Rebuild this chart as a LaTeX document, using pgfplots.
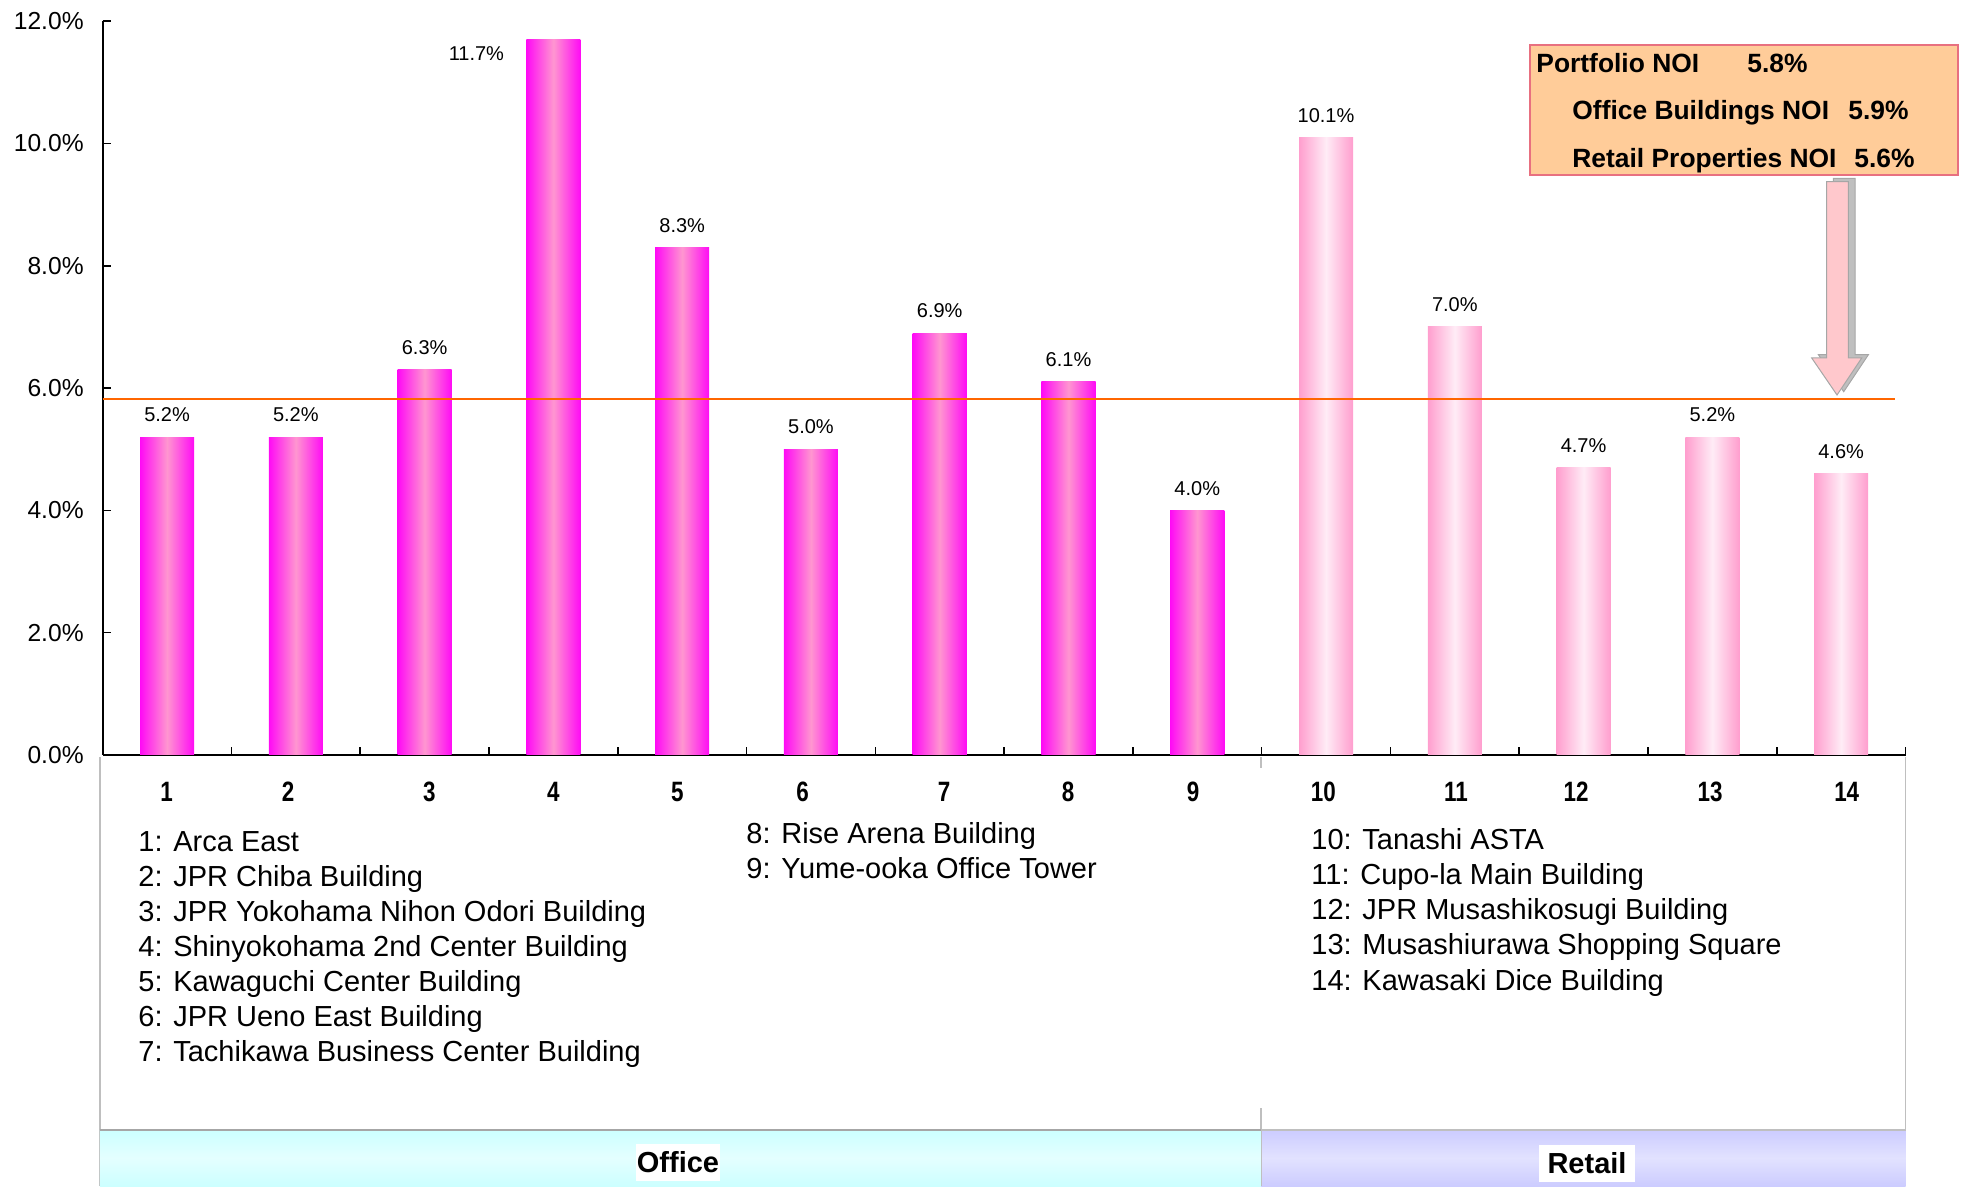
\documentclass[border=0pt]{standalone}
\usepackage{pgfplots}
\pgfplotsset{compat=1.18}
\usepackage{fontspec}
\setmainfont{Liberation Sans}
\newfontfamily\narrow[FakeStretch=0.8]{Liberation Sans}
\definecolor{magA}{RGB}{255,10,245}
\definecolor{pinkA}{RGB}{255,150,208}
\definecolor{pinkR}{RGB}{255,158,206}
\definecolor{pinkB}{RGB}{255,236,246}
\definecolor{noi}{RGB}{255,102,0}
\definecolor{boxfill}{RGB}{255,204,153}
\definecolor{boxdraw}{RGB}{232,112,128}
\definecolor{arrowfill}{RGB}{255,200,204}
\definecolor{cyanband}{RGB}{204,255,255}
\definecolor{cyanmid}{RGB}{228,255,255}
\definecolor{lavband}{RGB}{204,204,255}
\definecolor{lavmid}{RGB}{226,226,255}
\pgfplotsset{
  lbl/.style={nodes near coords={\pgfmathprintnumber[fixed,fixed zerofill,precision=1]{\pgfplotspointmeta}\%},
    nodes near coords style={font=\fontsize{10}{12}\selectfont, anchor=south, yshift=4pt, black}},
  officebar/.style={ybar, bar width=0.42, draw=none, left color=magA, right color=magA, middle color=pinkA},
  retailbar/.style={ybar, bar width=0.42, draw=none, left color=pinkR, right color=pinkR, middle color=pinkB},
}
\begin{document}
\begin{tikzpicture}
\begin{scope}[x=0.5pt, y=-0.5pt, shift={(-102.7,-755)}]
\path[use as bounding box] (0,0) rectangle (1963,1186);
\end{scope}
\begin{axis}[
  at={(0,0)}, anchor=south west,
  scale only axis, width=901.4pt, height=366.9pt,
  xmin=0.5, xmax=14.5, ymin=0, ymax=12,
  axis lines*=left,
  axis line style={line width=0.8pt, -},
  tick align=inside,
  major tick length=4pt,
  tick style={black, line width=0.8pt},
  xtick={1.5,2.5,...,14.5}, xticklabels={},
  ytick={0,2,...,12},
  /pgf/number format/assume math mode=true,
  yticklabel={\pgfmathprintnumber[fixed,fixed zerofill,precision=1]{\tick}\%},
  yticklabel style={font=\fontsize{12.3}{14}\selectfont, xshift=-6pt},
  clip=false,
]
% Office buildings
\addplot[officebar, lbl] coordinates {(1,5.2)};
\addplot[officebar, lbl] coordinates {(2,5.2)};
\addplot[officebar, lbl] coordinates {(3,6.3)};
\addplot[officebar] coordinates {(4,11.7)};
\addplot[officebar, lbl] coordinates {(5,8.3)};
\addplot[officebar, lbl] coordinates {(6,5.0)};
\addplot[officebar, lbl] coordinates {(7,6.9)};
\addplot[officebar, lbl] coordinates {(8,6.1)};
\addplot[officebar, lbl] coordinates {(9,4.0)};
% Retail properties
\addplot[retailbar, lbl] coordinates {(10,10.1)};
\addplot[retailbar, lbl] coordinates {(11,7.0)};
\addplot[retailbar, lbl] coordinates {(12,4.7)};
\addplot[retailbar, lbl] coordinates {(13,5.2)};
\addplot[retailbar, lbl] coordinates {(14,4.6)};
% Portfolio NOI line
\addplot[noi, line width=1.2pt] coordinates {(0.5,5.82) (14.42,5.82)};
\node[font=\fontsize{10}{12}\selectfont, xshift=-38.5pt, yshift=-7pt] at (axis cs:4,11.7) {11.7\%};
\end{axis}
\begin{scope}[x=0.5pt, y=-0.5pt, shift={(-102.7,-755)}]
% table borders
\draw[black!25, line width=0.6pt] (100,757) -- (100,1186);
\draw[black!25, line width=0.6pt] (1905.5,757) -- (1905.5,1186);
\draw[black!25, line width=0.6pt] (1261,757) -- (1261,768);
\draw[black!25, line width=0.6pt] (1261,1108) -- (1261,1130);
% bottom bands
\shade[top color=cyanband, bottom color=cyanband, middle color=cyanmid] (100,1130) rectangle (1261,1186);
\draw[black!35, line width=0.8pt] (100,1130) -- (1261,1130);
\shade[top color=lavband, bottom color=lavband, middle color=lavmid] (1261,1130) rectangle (1905.5,1186);
\draw[black!25, line width=0.8pt] (1261,1130) -- (1905.5,1130);
\draw[black!25, line width=0.5pt] (1261,1130) -- (1261,1186);
\node[fill=white, font=\bfseries\fontsize{14.5}{17}\selectfont, inner sep=0pt, minimum width=42pt, minimum height=18.5pt] at (678,1162) {Office};
\node[fill=white, font=\bfseries\fontsize{14.5}{17}\selectfont, inner sep=0pt, minimum width=48pt, minimum height=18.5pt] at (1587,1163) {Retail};
% category numbers
\foreach \xx/\nn in {166.5/1, 288/2, 429.4/3, 553.4/4, 677.3/5, 802.5/6, 944/7, 1068/8, 1193/9, 1323.4/10, 1456/11, 1576/12, 1710/13, 1846.7/14}
  \node[anchor=base, inner sep=0pt, font=\narrow\bfseries\fontsize{14}{16}\selectfont] at (\xx,801.7) {\nn};
% names
\begin{scope}[every node/.style={anchor=base west, inner sep=0pt, font=\fontsize{14.5}{17}\selectfont}]
\node at (138,851.7) {1: Arca East};
\node at (138,886.7) {2: JPR Chiba Building};
\node at (138,921.7) {3: JPR Yokohama Nihon Odori Building};
\node at (138,956.7) {4: Shinyokohama 2nd Center Building};
\node at (138,991.7) {5: Kawaguchi Center Building};
\node at (138,1026.7) {6: JPR Ueno East Building};
\node at (138,1061.7) {7: Tachikawa Business Center Building};
\node at (746,844) {8: Rise Arena Building};
\node at (746,879) {9: Yume-ooka Office Tower};
\node at (1311,849.5) {10: Tanashi ASTA};
\node at (1311,884.5) {11: Cupo-la Main Building};
\node at (1311,919.6) {12: JPR Musashikosugi Building};
\node at (1311,954.8) {13: Musashiurawa Shopping Square};
\node at (1311,990) {14: Kawasaki Dice Building};
\end{scope}
% NOI box
\draw[fill=boxfill, draw=boxdraw, line width=1pt] (1530,45) rectangle (1958,175);
\begin{scope}[every node/.style={anchor=base west, inner sep=0pt, font=\bfseries\fontsize{13.2}{15}\selectfont}]
\node at (1536,72.7) {Portfolio NOI};
\node at (1747,72.7) {5.8\%};
\node at (1572,120) {Office Buildings NOI};
\node at (1848,120) {5.9\%};
\node at (1572,167.3) {Retail Properties NOI};
\node at (1854,167.3) {5.6\%};
\end{scope}
% arrow with shadow
\begin{scope}[shift={(6.7,-3.3)}]
\filldraw[fill=black!25, draw=black!35, line width=0.5pt] (1826.7,181.7) -- (1848.3,181.7) -- (1848.3,358) -- (1861.7,358) -- (1837,395) -- (1811.7,358) -- (1826.7,358) -- cycle;
\end{scope}
\filldraw[fill=arrowfill, draw=black!35, line width=0.5pt] (1826.7,181.7) -- (1848.3,181.7) -- (1848.3,358) -- (1861.7,358) -- (1837,395) -- (1811.7,358) -- (1826.7,358) -- cycle;
\end{scope}
\end{tikzpicture}
\end{document}
